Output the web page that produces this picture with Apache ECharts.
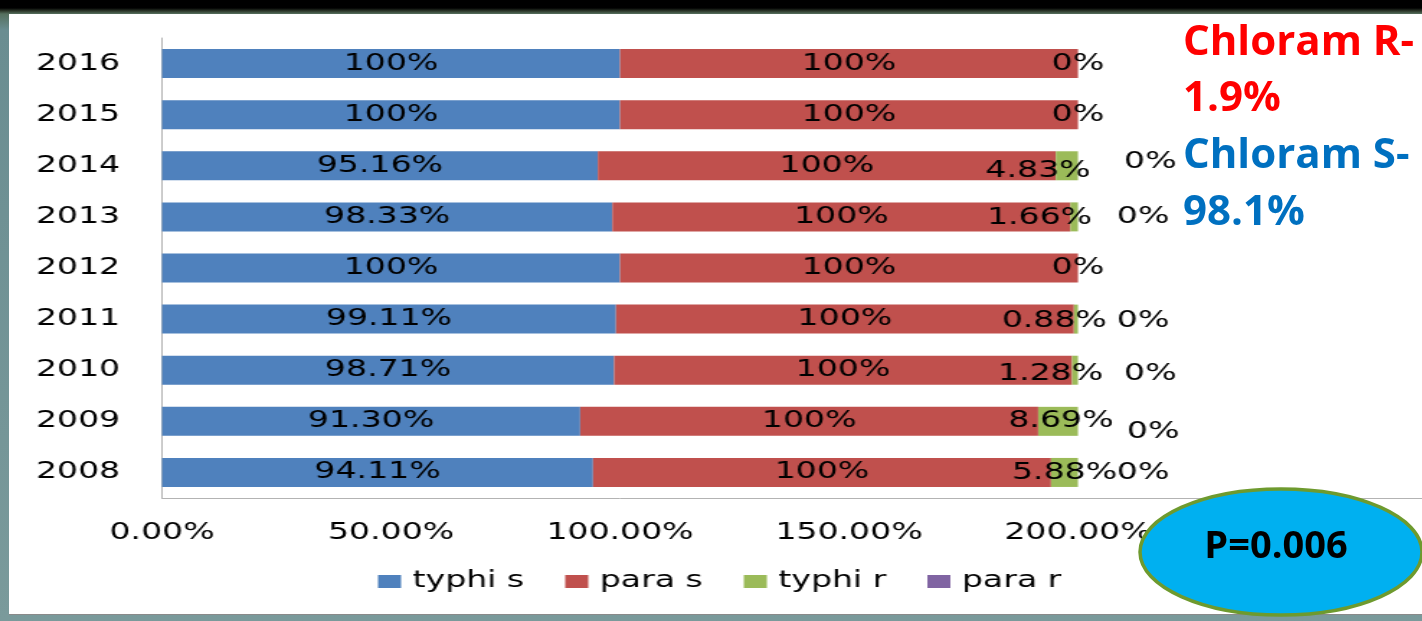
<!DOCTYPE html>
<html>
<head>
<meta charset="utf-8">
<script src="https://cdn.jsdelivr.net/npm/echarts@6/dist/echarts.min.js"></script>
<style>
  html, body { margin: 0; padding: 0; width: 1422px; height: 621px; overflow: hidden; background: #6a8d91; }
  #frame { position: absolute; left: 0; top: 0; width: 1422px; height: 621px;
           background: linear-gradient(to bottom, #000 0px, #000 8px, #2f3a2c 11px, #56705e 14px, #6a8d91 30px, #7a9a9b 100%); }
  #panel { position: absolute; left: 9px; top: 14px; width: 1413px; height: 600px; background: #fff;
           box-shadow: 0 1px 0 #8a8a8a; }
  #chart { position: absolute; left: 0; top: 0; width: 988px; height: 621px;
           transform: scaleX(1.44); transform-origin: 0 0; }
  #notes { position: absolute; left: 0; top: 0; width: 1422px; height: 621px; }
</style>
</head>
<body>
<div id="frame"></div>
<div id="panel"></div>
<div id="chart"></div>
<div id="notes"></div>
<script>
// Salmonella isolates by year: chloramphenicol sensitive (s) / resistant (r), in %
const years  = ['2008', '2009', '2010', '2011', '2012', '2013', '2014', '2015', '2016'];
const typhiS = [94.11, 91.30, 98.71, 99.11, 100, 98.33, 95.16, 100, 100];
const paraS  = [100, 100, 100, 100, 100, 100, 100, 100, 100];
const typhiR = [5.88, 8.69, 1.28, 0.88, 0, 1.66, 4.83, 0, 0];
const paraR  = [0, 0, 0, 0, 0, 0, 0, 0, 0];
const seriesNames = ['typhi s', 'para s', 'typhi r', 'para r'];

// Hand-placed label nudges (chart px) for the narrow resistant segments
const typhiRNudge = [[0, 1], [2, 0], [-17, 4], [-15, 2], [0, 0], [-24, 1], [-20, 5], [0, 0], [0, 0]];
const paraRNudge  = [[0, 1], [7, 11], [5, 4], [0, 2], null, [0, 0], [5, -4], null, null];

const FONT = 'DejaVu Sans';
const fmtPct = v => (Number.isInteger(v) ? v : v.toFixed(2)) + '%';

const baseLabel = {
  show: true, position: 'inside', color: '#000', fontFamily: FONT, fontSize: 23,
  textBorderWidth: 0, formatter: p => fmtPct(p.value)
};

// The chart layer is laid out narrow and stretched horizontally by CSS (scaleX 1.44)
const chart = echarts.init(document.getElementById('chart'), null, { renderer: 'canvas' });
chart.setOption({
  animation: false,
  color: ['#4F81BD', '#C0504D', '#9BBB59', '#8064A2'],
  grid: { left: 112.5, right: 239.4, top: 38, bottom: 123 },
  legend: {
    data: seriesNames, left: 257.5, top: 565, icon: 'rect', itemWidth: 16, itemHeight: 13, itemGap: 28.5,
    textStyle: { color: '#000', fontFamily: FONT, fontSize: 23, padding: [0, 0, 0, 3] }
  },
  xAxis: {
    type: 'value', min: 0, max: 200, interval: 50,
    axisLine: { show: true, lineStyle: { color: '#B3B3B3', width: 1 } },
    axisTick: { show: false }, splitLine: { show: false },
    axisLabel: { margin: 24, color: '#000', fontFamily: FONT, fontSize: 23, formatter: v => v.toFixed(2) + '%' }
  },
  yAxis: {
    type: 'category', data: years,
    axisLine: { show: true, lineStyle: { color: '#B3B3B3', width: 1 } },
    axisTick: { show: false },
    axisLabel: { margin: 29, color: '#000', fontFamily: FONT, fontSize: 23 }
  },
  series: [
    { name: 'typhi s', type: 'bar', stack: 'total', barWidth: 29, data: typhiS, label: baseLabel },
    { name: 'para s', type: 'bar', stack: 'total', barWidth: 29, data: paraS, label: baseLabel },
    { name: 'typhi r', type: 'bar', stack: 'total', barWidth: 29, label: baseLabel,
      data: typhiR.map((v, i) => ({ value: v, label: { offset: typhiRNudge[i] } })) },
    { name: 'para r', type: 'bar', stack: 'total', barWidth: 29,
      label: Object.assign({}, baseLabel, { position: 'right', distance: 27 }),
      data: paraR.map((v, i) => ({ value: v, label: paraRNudge[i] ? { offset: paraRNudge[i] } : { show: false } })) }
  ]
});

// Annotations: overall chloramphenicol split and the p-value badge
const notes = echarts.init(document.getElementById('notes'), null, { renderer: 'canvas' });
const NOTE_FONT = 'bold 42px "Open Sans"';
notes.setOption({
  animation: false,
  graphic: [
    { type: 'line', shape: { x1: 1078, y1: 498.5, x2: 1422, y2: 498.5 }, style: { stroke: '#B3B3B3', lineWidth: 1 } },
    { type: 'text', style: { text: 'Chloram R-', x: 1183, y: 43, font: NOTE_FONT, fill: '#FF0000', verticalAlign: 'middle' } },
    { type: 'text', style: { text: '1.9%', x: 1183, y: 99, font: NOTE_FONT, fill: '#FF0000', verticalAlign: 'middle' } },
    { type: 'text', style: { text: 'Chloram S-', x: 1183, y: 156, font: NOTE_FONT, fill: '#0070C0', verticalAlign: 'middle' } },
    { type: 'text', style: { text: '98.1%', x: 1183, y: 213, font: NOTE_FONT, fill: '#0070C0', verticalAlign: 'middle' } },
    { type: 'ellipse', shape: { cx: 1281, cy: 552, rx: 141, ry: 63 },
      style: { fill: '#00B0F0', stroke: '#6E9A2E', lineWidth: 3.5 } },
    { type: 'text', style: { text: 'P=0.006', x: 1276, y: 547, font: 'bold 38px "Open Sans"', fill: '#000',
      align: 'center', verticalAlign: 'middle' } }
  ]
});
</script>
</body>
</html>
